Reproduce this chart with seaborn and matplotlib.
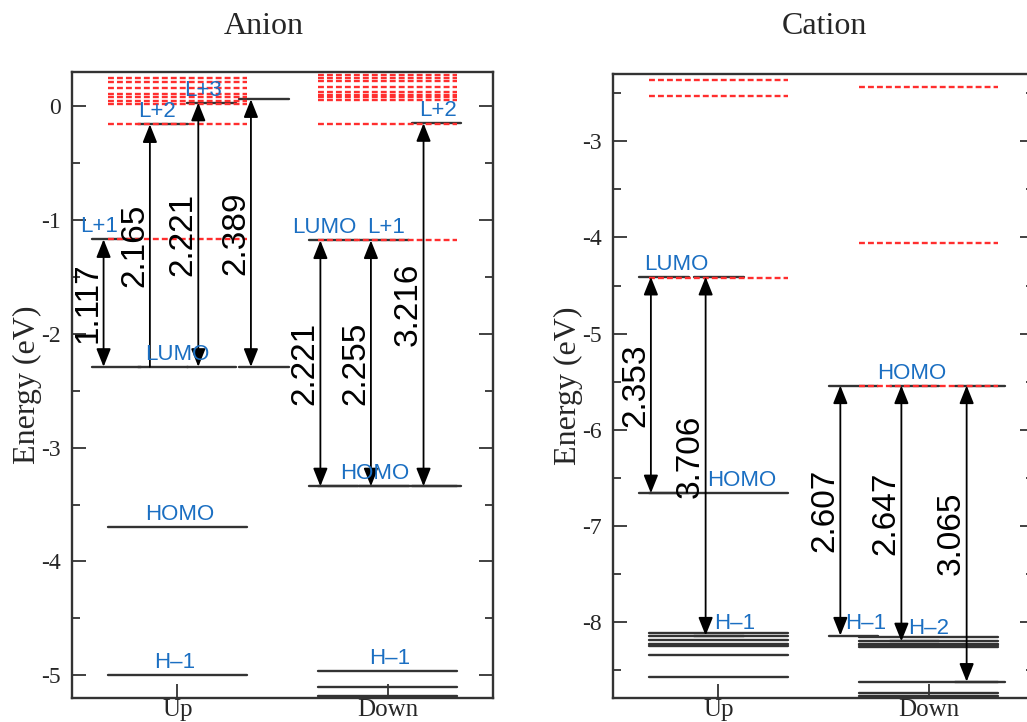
import matplotlib
matplotlib.use("Agg")
import matplotlib.pyplot as plt
from matplotlib.ticker import MultipleLocator
import pandas as pd
import seaborn as sns

spins = ["Up", "Down"]

# ---- Anion levels (eV) ----
anion_up_virtual = [0.245, 0.21, 0.16, 0.11, 0.08, 0.045, 0.02, -0.16, -1.17]
anion_down_virtual = [0.27, 0.25, 0.22, 0.17, 0.12, 0.10, 0.08, 0.05, -0.16, -1.18]
anion_up_occupied = [-3.70, -5.00]
anion_down_occupied = [-3.34, -4.96, -5.10, -5.18]

# transitions: lower level, upper level, gap label
anion_trans_low = [-2.29, -2.29, -2.29, -2.29, -3.34, -3.34, -3.34]
anion_trans_high = [-1.17, -0.16, 0.03, 0.06, -1.18, -1.18, -0.15]
anion_trans_gap = ["1.117", "2.165", "2.221", "2.389", "2.221", "2.255", "3.216"]
anion_trans_lowhead = [True, False, True, True, True, True, True]

anion_names = ["L+1", "L+2", "L+3", "LUMO", "HOMO", "H\u20131",
               "LUMO", "L+1", "L+2", "HOMO", "H\u20131"]
anion_name_E = [-1.17, -0.16, 0.03, -2.29, -3.70, -5.00,
                -1.18, -1.18, -0.15, -3.34, -4.96]

# ---- Cation levels (eV) ----
cation_up_virtual = [-2.36, -2.53, -4.42]
cation_down_virtual = [-2.44, -4.06, -5.54]
cation_up_occupied = [-6.66, -8.11, -8.15, -8.19, -8.23, -8.25, -8.34, -8.57]
cation_down_occupied = [-8.16, -8.20, -8.23, -8.24, -8.26, -8.62, -8.74, -8.77]

cation_trans_low = [-6.66, -8.14, -8.14, -8.20, -8.62]
cation_trans_high = [-4.41, -4.41, -5.54, -5.54, -5.54]
cation_trans_gap = ["2.353", "3.706", "2.607", "2.647", "3.065"]
cation_trans_lowhead = [True, True, True, True, True]

cation_names = ["LUMO", "HOMO", "HOMO", "H\u20131", "H\u20131", "H\u20132"]
cation_name_E = [-4.41, -6.66, -5.54, -8.14, -8.14, -8.20]

# layout (x positions in spin-column units)
anion_arrow_x = [-0.35, -0.13, 0.10, 0.35, 0.68, 0.92, 1.17]
anion_name_x = [-0.37, -0.095, 0.12, 0.0, 0.01, -0.01, 0.70, 0.99, 1.24, 0.94, 1.01]
cation_arrow_x = [-0.32, -0.06, 0.58, 0.87, 1.18]
cation_name_x = [-0.20, 0.11, 0.92, 0.08, 0.70, 1.00]

BLUE = "#1b6fc2"
RED = "#ff2e2e"
DARK = "#333333"
SERIF = ["Liberation Serif", "DejaVu Serif"]
SANS = ["Liberation Sans", "DejaVu Sans"]

sns.set_theme(style="ticks")
plt.rcParams["font.family"] = SERIF
plt.rcParams["axes.unicode_minus"] = False


def segments(energies, centre, half=0.33, start=0):
    rows = []
    for i, e in enumerate(energies):
        rows.append({"seg": start + i, "x": centre - half, "E": e})
        rows.append({"seg": start + i, "x": centre + half, "E": e})
    return pd.DataFrame(rows)


def stubs(xs, lows, highs):
    rows = []
    k = 0
    for x, lo, hi in zip(xs, lows, highs):
        for e in (lo, hi):
            rows.append({"seg": k, "x": x - 0.055, "E": e})
            rows.append({"seg": k, "x": x + 0.18, "E": e})
            k += 1
    return pd.DataFrame(rows)


def draw_panel(ax, vup, vdown, oup, odown, arrow_x, lows, highs, gaps, lowheads,
               names, name_x, name_E, ylim, title, title_x):
    occ = pd.concat([segments(oup, 0), segments(odown, 1, start=100)])
    sns.lineplot(data=occ, x="x", y="E", units="seg", estimator=None, sort=False,
                 color=DARK, lw=1.7, ax=ax)
    sns.lineplot(data=stubs(arrow_x, lows, highs), x="x", y="E", units="seg",
                 estimator=None, sort=False, color=DARK, lw=1.7, ax=ax)
    virt = pd.concat([segments(vup, 0), segments(vdown, 1, start=100)])
    sns.lineplot(data=virt, x="x", y="E", units="seg", estimator=None, sort=False,
                 color=RED, lw=1.7, linestyle=(0, (2.5, 1.3)), ax=ax)

    for x, lo, hi, g, lh in zip(arrow_x, lows, highs, gaps, lowheads):
        style = "<|-|>" if lh else "-|>"
        ax.annotate("", xy=(x, hi), xytext=(x, lo),
                    arrowprops=dict(arrowstyle=style + ",head_length=0.55,head_width=0.22",
                                    color="black", lw=1.3, shrinkA=0, shrinkB=0,
                                    mutation_scale=20))
        ax.annotate(g, xy=(x, (lo + hi) / 2), xytext=(-11, 0),
                    textcoords="offset points", rotation=90, ha="center",
                    va="center", fontsize=24, family=SANS, color="black")

    for n, x, e in zip(names, name_x, name_E):
        ax.annotate(n, xy=(x, e), xytext=(0, 9), textcoords="offset points",
                    ha="center", va="center", fontsize=16, family=SANS, color=BLUE)

    ax.set_xlim(-0.5, 1.5)
    ax.set_ylim(*ylim)
    ax.set_xticks([0, 1])
    ax.set_xticklabels(spins)
    ax.set_xlabel("")
    ax.set_ylabel("Energy (eV)", fontsize=23)
    ax.yaxis.set_major_locator(MultipleLocator(1))
    ax.yaxis.set_minor_locator(MultipleLocator(0.5))
    ax.tick_params(axis="y", which="major", direction="in", length=10, width=1.3,
                   right=True, labelsize=17, pad=8, color=DARK)
    ax.tick_params(axis="y", which="minor", direction="in", length=6, width=1.3,
                   right=True, color=DARK)
    ax.tick_params(axis="x", direction="in", length=10, width=1.3, labelsize=18,
                   pad=1, color=DARK)
    for s in ax.spines.values():
        s.set_color(DARK)
        s.set_linewidth(1.7)
        s.set_visible(True)
    ax.yaxis.set_label_coords(-0.072, 0.5)
    fig.text(title_x, 1 - 27 / 722, title, ha="center", va="center", fontsize=23)


fig = plt.figure(figsize=(10.27, 7.22), dpi=100)
ax1 = fig.add_axes([72 / 1027, 1 - 698 / 722, 421 / 1027, 626 / 722])
ax2 = fig.add_axes([613 / 1027, 1 - 698 / 722, 421 / 1027, 624 / 722])

draw_panel(ax1, anion_up_virtual, anion_down_virtual, anion_up_occupied,
           anion_down_occupied, anion_arrow_x, anion_trans_low, anion_trans_high,
           anion_trans_gap, anion_trans_lowhead, anion_names, anion_name_x,
           anion_name_E, (-5.20, 0.30), "Anion", 264 / 1027)
draw_panel(ax2, cation_up_virtual, cation_down_virtual, cation_up_occupied,
           cation_down_occupied, cation_arrow_x, cation_trans_low, cation_trans_high,
           cation_trans_gap, cation_trans_lowhead, cation_names, cation_name_x,
           cation_name_E, (-8.79, -2.30), "Cation", 824 / 1027)

fig.savefig("out.png", dpi=100)
